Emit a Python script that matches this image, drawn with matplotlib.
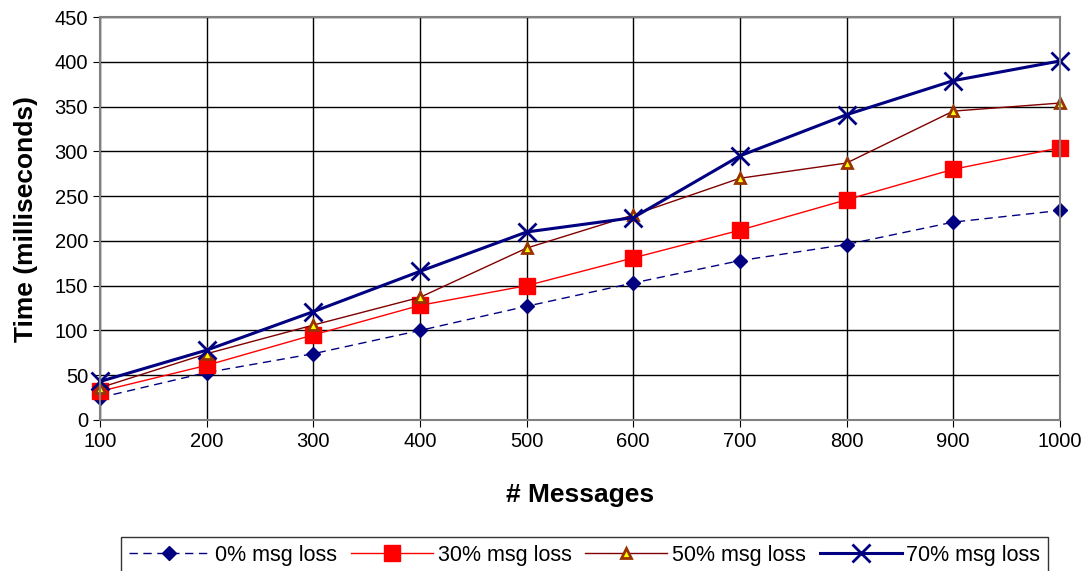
import matplotlib.pyplot as plt

plt.rcParams['font.family'] = ['Liberation Sans', 'DejaVu Sans']

messages = [100, 200, 300, 400, 500, 600, 700, 800, 900, 1000]
loss0 = [25, 53, 74, 100, 127, 153, 178, 196, 221, 234]
loss30 = [32, 61, 95, 128, 150, 181, 212, 246, 280, 304]
loss50 = [36, 74, 106, 137, 192, 229, 270, 287, 345, 354]
loss70 = [43, 78, 121, 166, 210, 226, 295, 341, 379, 401]

fig = plt.figure(figsize=(10.87, 5.71), dpi=100)
ax = fig.add_axes([0.092, 0.2645, 0.883, 0.7055])

ax.plot(messages, loss0, color='#000080', linestyle=(0, (6, 4)), linewidth=1,
        marker='D', markersize=7, label='0% msg loss', clip_on=False)
ax.plot(messages, loss30, color='#ff0000', linewidth=1,
        marker='s', markersize=11, label='30% msg loss', clip_on=False)
ax.plot(messages, loss50, color='#800000', linewidth=1,
        marker='^', markersize=7, markerfacecolor='#ffff00',
        markeredgecolor='#993300', markeredgewidth=2, label='50% msg loss',
        clip_on=False)
ax.plot(messages, loss70, color='#000080', linewidth=2.2,
        marker='x', markersize=13, markeredgewidth=2, label='70% msg loss',
        clip_on=False)

ax.set_xlim(100, 1000)
ax.set_ylim(0, 450)
ax.set_xticks(messages)
ax.set_yticks(range(0, 451, 50))
ax.grid(True, color='black', linewidth=1)
for s in ax.spines.values():
    s.set_color('#808080')
    s.set_linewidth(1.5)
ax.tick_params(labelsize=14.5, direction='out', length=5, color='black')

ax.set_xlabel('# Messages', fontsize=19, fontweight='bold', labelpad=23)
ax.set_ylabel('Time (milliseconds)', fontsize=19, fontweight='bold', labelpad=12)

leg = fig.legend(loc='upper left', bbox_to_anchor=(121 / 1087, 1 - 537 / 571),
                 ncol=4, frameon=True, fancybox=False, edgecolor='black',
                 fontsize=15.5, handlelength=3.8, handletextpad=0.22,
                 columnspacing=0.65, borderpad=0.35, borderaxespad=0)
leg.get_frame().set_linewidth(1)

fig.savefig('out.png', dpi=100)
